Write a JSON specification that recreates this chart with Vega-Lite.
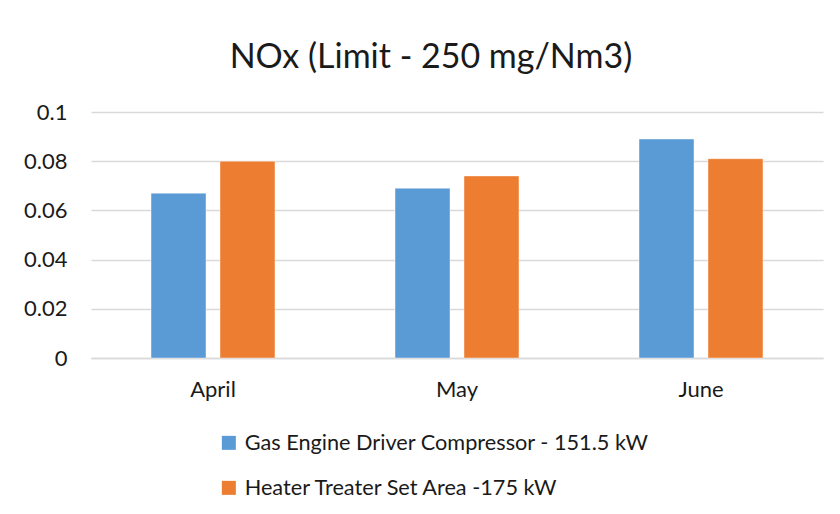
{
  "$schema": "https://vega.github.io/schema/vega-lite/v6.json",
  "autosize": {"type": "none"},
  "width": 732,
  "height": 246,
  "padding": {"left": 91, "top": 112, "right": 17, "bottom": 156},
  "background": "white",
  "title": {
    "text": "NOx (Limit - 250 mg/Nm3)",
    "font": "Lato",
    "fontSize": 34,
    "fontWeight": "normal",
    "color": "#1a1a1a",
    "anchor": "middle",
    "dx": -26,
    "offset": 26
  },
  "data": {
    "values": [
      {"month": "April", "series": "Gas Engine Driver Compressor - 151.5 kW", "value": 0.067},
      {"month": "April", "series": "Heater Treater Set Area -175 kW", "value": 0.080},
      {"month": "May", "series": "Gas Engine Driver Compressor - 151.5 kW", "value": 0.069},
      {"month": "May", "series": "Heater Treater Set Area -175 kW", "value": 0.074},
      {"month": "June", "series": "Gas Engine Driver Compressor - 151.5 kW", "value": 0.089},
      {"month": "June", "series": "Heater Treater Set Area -175 kW", "value": 0.081}
    ]
  },
  "mark": {"type": "bar", "stroke": "white", "strokeOpacity": 0.4, "strokeWidth": 1},
  "encoding": {
    "x": {
      "field": "month",
      "type": "nominal",
      "sort": ["April", "May", "June"],
      "scale": {"paddingInner": 0.492, "paddingOuter": 0.246},
      "axis": {
        "title": null,
        "labelAngle": 0,
        "labelFont": "Lato",
        "labelFontSize": 22,
        "labelColor": "#1a1a1a",
        "labelPadding": 21,
        "ticks": false,
        "domain": true,
        "domainColor": "#d9d9d9",
        "domainWidth": 1.5,
        "grid": false
      }
    },
    "xOffset": {
      "field": "series",
      "type": "nominal",
      "scale": {"paddingInner": 0.203}
    },
    "y": {
      "field": "value",
      "type": "quantitative",
      "scale": {"domain": [0, 0.1], "nice": false},
      "axis": {
        "title": null,
        "values": [0, 0.02, 0.04, 0.06, 0.08, 0.1],
        "format": "~g",
        "labelFont": "Lato",
        "labelFontSize": 22,
        "labelColor": "#1a1a1a",
        "labelPadding": 24,
        "ticks": false,
        "domain": false,
        "grid": true,
        "gridColor": "#d9d9d9",
        "gridWidth": 1.5
      }
    },
    "color": {
      "field": "series",
      "type": "nominal",
      "scale": {"range": ["#5b9bd5", "#ed7d31"]},
      "legend": {
        "title": null,
        "orient": "none",
        "legendX": 127,
        "legendY": 320,
        "direction": "vertical",
        "symbolType": "square",
        "symbolSize": 196,
        "symbolStrokeWidth": 0,
        "labelFont": "Lato",
        "labelFontSize": 21.7,
        "labelColor": "#1a1a1a",
        "labelOffset": 5,
        "rowPadding": 22,
        "labelLimit": 600
      }
    }
  },
  "config": {"view": {"stroke": null}}
}
